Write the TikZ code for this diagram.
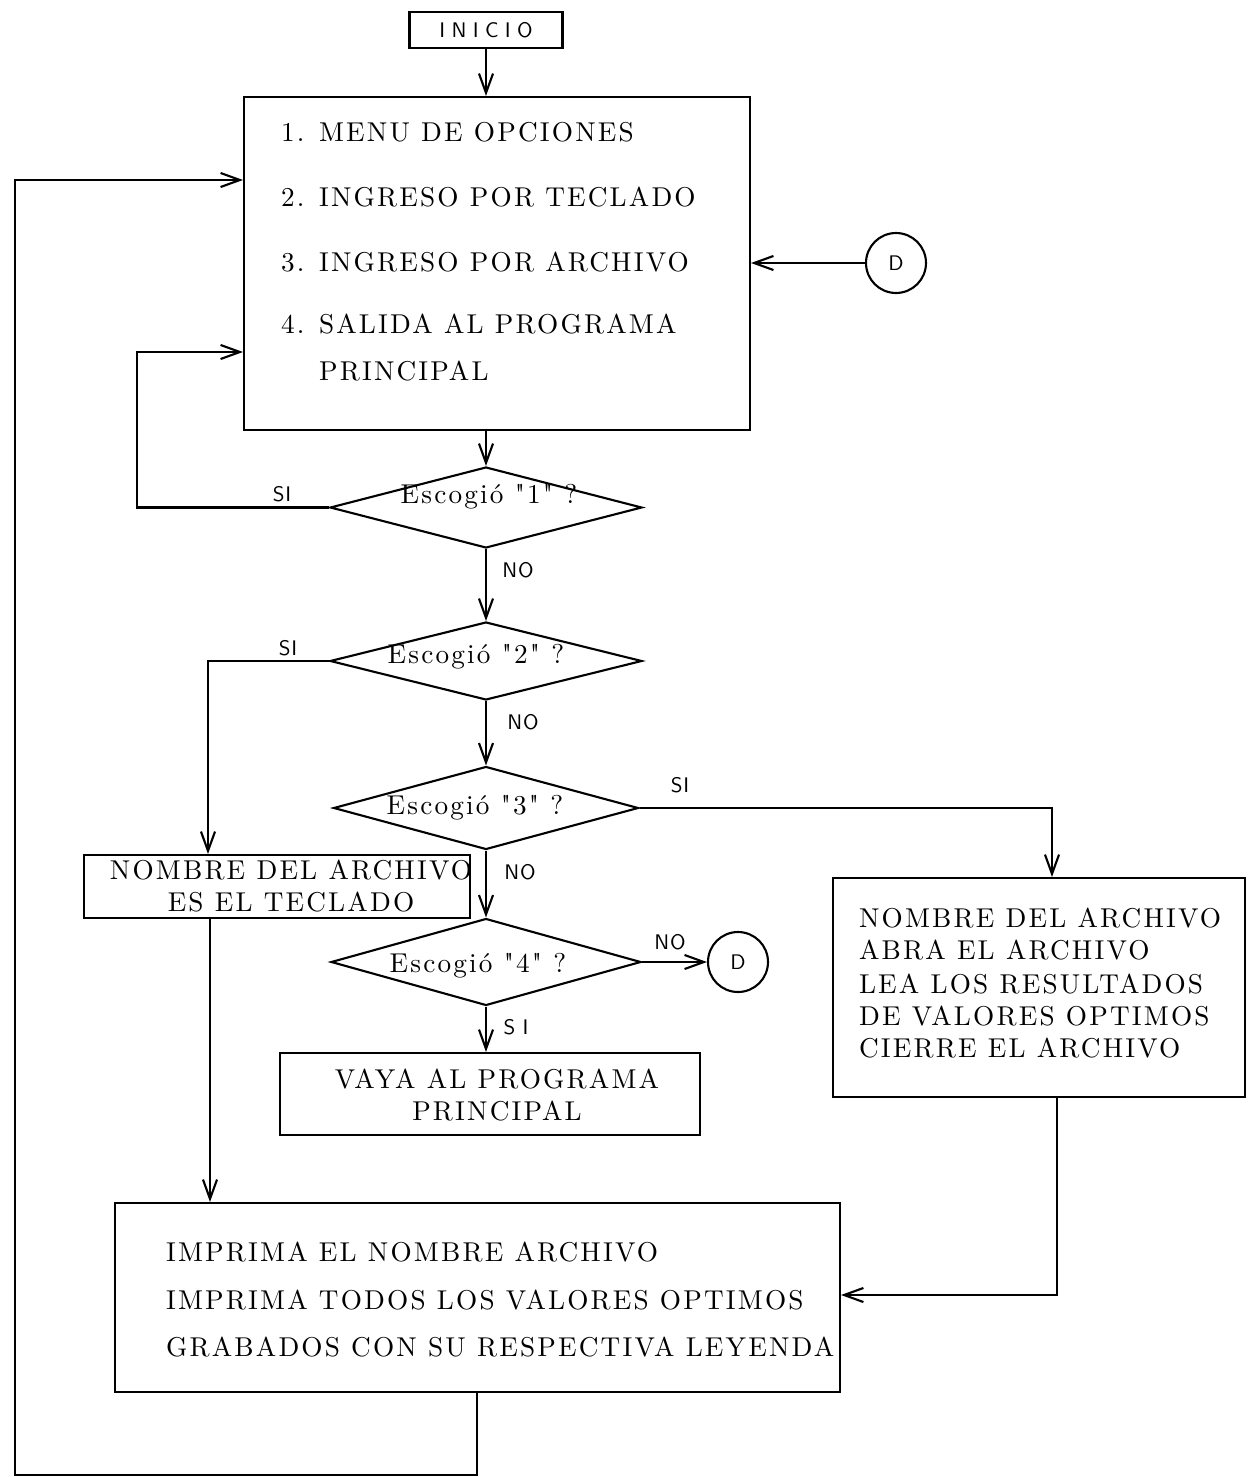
\documentclass[tikz,border=0pt]{standalone}
\usepackage{fontspec}
\usetikzlibrary{arrows.meta,shapes.geometric}
\newfontfamily\boxfam{lmroman10-regular.otf}[LetterSpace=8,Ligatures=TeXOff]
\newfontfamily\tagfam{lmsans10-regular.otf}[LetterSpace=4]
\newfontfamily\startfam{lmsans10-regular.otf}[LetterSpace=30]
\newfontfamily\sifam{lmsans10-regular.otf}[LetterSpace=35]
\newcommand\boxfont{\boxfam\fontsize{15.5}{18.5}\selectfont}
\newcommand\tagfont{\tagfam\fontsize{12}{14}\selectfont}
\begin{document}
\begin{tikzpicture}[x=0.02cm,y=-0.02cm,line width=1.2pt,
  box/.style={draw,rectangle,inner sep=0pt},
  decision/.style={draw,diamond,inner sep=0pt},
  connector/.style={draw,circle,inner sep=0pt,minimum size=1.2cm,font=\tagfont},
  txt/.style={anchor=base west,inner sep=0pt,font=\boxfont},
  ctxt/.style={inner sep=0pt,align=center,font=\boxfont},
  tag/.style={inner sep=0pt,font=\tagfont},
  arr/.style={-{Straight Barb[length=11pt,width=8pt,line width=1.2pt]}}]
\useasboundingbox (0,0) rectangle (1252,1477);

% start
\node[box,minimum width=3.06cm,minimum height=0.72cm,
      font=\startfam\fontsize{12}{14}\selectfont]
      (inicio) at (486,30) {INICIO};

% main menu
\node[box,minimum width=10.12cm,minimum height=6.66cm] (menu) at (497,263.5) {};
\node[txt] (m1) at (280,141) {1.};
\node[txt] (m1b) at (318,141) {MENU DE OPCIONES};
\node[txt] (m2) at (280,206) {2.};
\node[txt] (m2b) at (318,206) {INGRESO POR TECLADO};
\node[txt] (m3) at (280,271) {3.};
\node[txt] (m3b) at (318,271) {INGRESO POR ARCHIVO};
\node[txt] (m4) at (280,333) {4.};
\node[txt] (m4b) at (318,333) {SALIDA AL PROGRAMA};
\node[txt] (m4c) at (318,380) {PRINCIPAL};

\node[connector] (dA) at (896,263) {D};

% decisions
\node[decision,minimum width=6.24cm,minimum height=1.62cm] (d1) at (486,507.5) {};
\node[ctxt] (d1t) at (489,497) {Escogió "1" ?};
\node[decision,minimum width=6.24cm,minimum height=1.56cm] (d2) at (486,661) {};
\node[ctxt] (d2t) at (476,657) {Escogió "2" ?};
\node[decision,minimum width=6.10cm,minimum height=1.66cm] (d3) at (486,808) {};
\node[ctxt] (d3t) at (475,808) {Escogió "3" ?};
\node[decision,minimum width=6.20cm,minimum height=1.74cm] (d4) at (486,962) {};
\node[ctxt] (d4t) at (478,966) {Escogió "4" ?};

\node[connector] (dB) at (738,962) {D};

% process boxes
\node[box,minimum width=7.72cm,minimum height=1.26cm] (teclado) at (277,886.5) {};
\node[ctxt] (tecladot) at (291,886) {NOMBRE DEL ARCHIVO\\ES EL TECLADO};

\node[box,minimum width=8.4cm,minimum height=1.64cm] (vaya) at (490,1094) {};
\node[ctxt] (vayat) at (497,1095) {VAYA AL PROGRAMA\\PRINCIPAL};

\node[box,minimum width=8.24cm,minimum height=4.38cm] (leer) at (1039,987.5) {};
\node[txt] (r1) at (858,927) {NOMBRE DEL ARCHIVO};
\node[txt] (r2) at (858,959) {ABRA EL ARCHIVO};
\node[txt] (r3) at (858,993) {LEA LOS RESULTADOS};
\node[txt] (r4) at (858,1025) {DE VALORES OPTIMOS};
\node[txt] (r5) at (858,1057) {CIERRE EL ARCHIVO};

\node[box,minimum width=14.5cm,minimum height=3.78cm] (imprima) at (477.5,1297.5) {};
\node[txt] (p1) at (165,1261) {IMPRIMA EL NOMBRE ARCHIVO};
\node[txt] (p2) at (165,1309) {IMPRIMA TODOS LOS VALORES OPTIMOS};
\node[txt] (p3) at (165,1356) {GRABADOS CON SU RESPECTIVA LEYENDA};

% routing points
\coordinate (k1) at (137,352);
\coordinate (k2) at (208,661);
\coordinate (k3) at (1052,808);
\coordinate (k4) at (210,0);
\coordinate (k5) at (1057,1295);
\coordinate (k6) at (477,1475);
\coordinate (k7) at (15,1475);
\coordinate (k8) at (15,180);

% connectors
\draw[arr] (inicio.south) -- (inicio.south |- menu.north);
\draw[arr] (dA.west) -- (dA.west -| menu.east);
\draw[arr] (d1.north |- menu.south) -- (d1.north);
\draw[arr] (d1.south) -- (d2.north);
\draw[arr] (d2.south) -- (d3.north);
\draw[arr] (d3.south) -- (d4.north);
\draw[arr] (d4.south) -- (d4.south |- vaya.north);
\draw[arr] (d4.east) -- (dB.west);
\draw[arr] (d1.west) -| (k1) -- (k1 -| menu.west);
\draw[arr] (d2.west) -- (k2) -- (k2 |- teclado.north);
\draw[arr] (d3.east) -- (k3) -- (k3 |- leer.north);
\draw[arr] (teclado.south -| k4) -- (k4 |- imprima.north);
\draw[arr] (leer.south -| k5) -- (k5) -- (k5 -| imprima.east);
\draw[arr] (imprima.south -| k6) -- (k6) -- (k7) -- (k8) -- (k8 -| menu.west);

% branch labels
\node[tag] (t1) at (282,494) {SI};
\node[tag] (t2) at (518,570) {NO};
\node[tag] (t3) at (288,648) {SI};
\node[tag] (t4) at (523,722) {NO};
\node[tag] (t5) at (680,785) {SI};
\node[tag] (t6) at (520,872) {NO};
\node[tag] (t7) at (670,942) {NO};
\node[tag,font=\sifam\fontsize{12}{14}\selectfont] (t8) at (516,1027) {SI};
\end{tikzpicture}
\end{document}
